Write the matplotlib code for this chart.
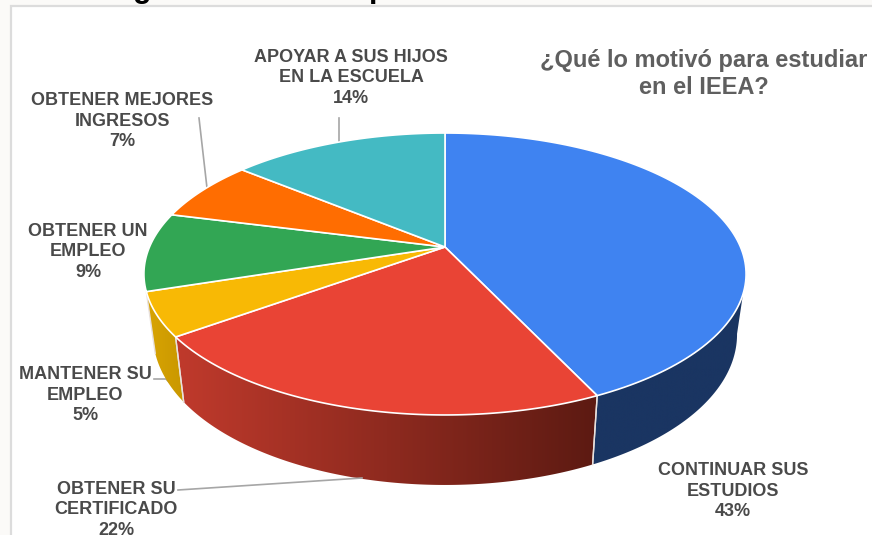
#!/usr/bin/env python3
import numpy as np
import matplotlib
matplotlib.use('Agg')
import matplotlib.pyplot as plt
from matplotlib.patches import Polygon
from matplotlib.colors import LinearSegmentedColormap

plt.rcParams['font.family'] = ['Liberation Sans', 'DejaVu Sans']

# pie values, clockwise from 12 o'clock
labels = ['CONTINUAR SUS\nESTUDIOS', 'OBTENER SU\nCERTIFICADO', 'MANTENER SU\nEMPLEO',
          'OBTENER UN\nEMPLEO', 'OBTENER MEJORES\nINGRESOS', 'APOYAR A SUS HIJOS\nEN LA ESCUELA']
values = [43, 22, 5, 9, 7, 14]
colors = ['#3f83f1', '#e94435', '#f8b905', '#32a654', '#ff6d01', '#44bac3']
side_start = ['#1a3562', '#c03a2c', '#d9a503']
side_end = ['#1a3562', '#5c1a12', '#c99700']

# where the pie sits on the picture
CX, CY = 445, 247
RX, RY = 295.5, 135.8
K = 0.1915


def top(t):
    s, c = np.sin(t), np.cos(t)
    d = 1 + K * c
    return CX + RX * s / d, CY - RY * c / d


def bottom(t):
    x, y = top(t)
    return CX + 0.97 * (x - CX), y + 58 - 12 * np.cos(t)


fig = plt.figure(figsize=(8.72, 5.35), dpi=100)
ax = fig.add_axes([0, 0, 1, 1])
ax.axis('off')
fig.patch.set_facecolor('#fbfaf8')

# chart frame
ax.add_patch(plt.Rectangle((11, 6), 870, 540, fc='white', ec='#dcdcdc', lw=1.6))

# cut off title at the top edge
ax.text(142, -3, 'g', fontsize=22, fontweight='bold', color='black', ha='center', va='baseline')
ax.text(378, -3, 'p', fontsize=22, fontweight='bold', color='black', ha='center', va='baseline')

edges = np.cumsum([0] + values) / 100 * 2 * np.pi

# outer wall, only the part turned to the viewer
wall_from = np.pi / 2 + 0.19
for i in range(3):
    a, b = max(edges[i], wall_from), edges[i + 1]
    ts = np.linspace(a, b, 120)
    outline = [top(t) for t in ts] + [bottom(t) for t in ts[::-1]]
    wall = Polygon(outline, closed=True, fc='none', ec='none', transform=ax.transData)
    ax.add_patch(wall)
    xs = [p[0] for p in outline]
    ys = [p[1] for p in outline]
    # the gradient runs left to right across the wall, start colour on the left
    cmap = LinearSegmentedColormap.from_list('wall', [side_start[i], side_end[i]])
    im = ax.imshow(np.linspace(0, 1, 256)[None, :], cmap=cmap, aspect='auto',
                   extent=(min(xs), max(xs), max(ys), min(ys)), zorder=2)
    im.set_clip_path(wall)
    # light seams at the slice edges
    for t in (edges[i], edges[i + 1]):
        if t > wall_from:
            p, q = top(t), bottom(t)
            ax.plot([p[0], q[0]], [p[1], q[1]], color='#e8e0dc', lw=1, zorder=3)

# top face
for i in range(len(values)):
    ts = np.linspace(edges[i], edges[i + 1], 120)
    pts = [(CX, CY)] + [top(t) for t in ts]
    ax.add_patch(Polygon(pts, closed=True, fc=colors[i], ec='white', lw=1.2, zorder=4))

# leader lines
line_col = '#a6a6a6'
ax.plot([339, 339], [118, 143], color=line_col, lw=1.2, zorder=1)
ax.plot([199, 207], [118, 188], color=line_col, lw=1.2, zorder=1)
ax.plot([154, 166, 172], [379, 379, 385], color=line_col, lw=1.2, zorder=1)
ax.plot([178, 362], [490, 478], color=line_col, lw=1.2, zorder=5)

# data labels, centre of each block
label_pos = [(733, 491), (116, 510), (85, 395), (88, 252), (122, 121), (351, 78)]
for name, v, (x, y) in zip(labels, values, label_pos):
    ax.text(x, y, '%s\n%d%%' % (name, v), fontsize=13, fontweight='bold', color='#4a4a4a',
            ha='center', va='center', linespacing=1.29, zorder=6)

ax.text(704, 74, '¿Qué lo motivó para estudiar\nen el IEEA?', fontsize=17, fontweight='bold',
        color='#5f5f5f', ha='center', va='center', linespacing=1.24, zorder=6)

ax.set_xlim(0, 872)
ax.set_ylim(535, 0)
fig.savefig('out.png', dpi=100, facecolor=fig.get_facecolor())
